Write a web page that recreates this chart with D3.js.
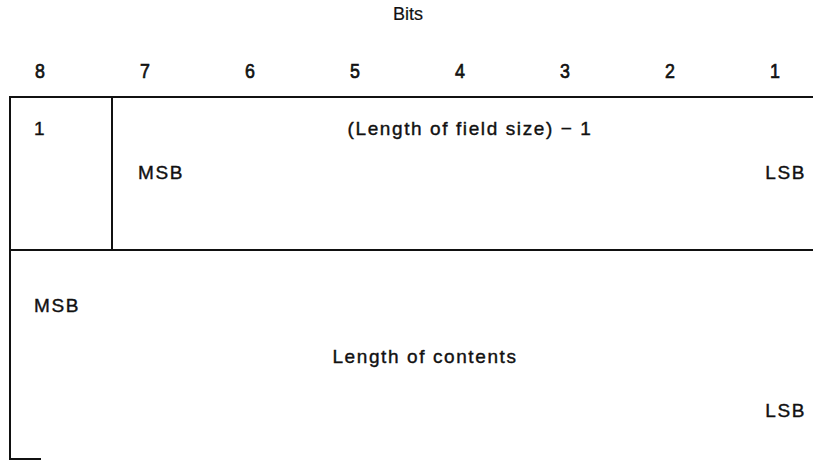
<!DOCTYPE html>
<html>
<head>
<meta charset="utf-8">
<script src="https://cdn.jsdelivr.net/npm/d3@7"></script>
<style>
  body { margin: 0; background: #fff; }
  text { font-family: "Liberation Sans", Arial, sans-serif; fill: #111; stroke: #111; stroke-width: 0.4px; }
</style>
</head>
<body>
<svg id="chart"></svg>
<script>
// bit numbers across the top, MSB first
const bits = [8, 7, 6, 5, 4, 3, 2, 1];
const title = "Bits";
const firstOctet = { flag: "1", label: "(Length of field size) \u2212 1", msb: "MSB", lsb: "LSB" };
const secondField = { label: "Length of contents", msb: "MSB", lsb: "LSB" };

const width = 815, height = 461;
const svg = d3.select("#chart").attr("width", width).attr("height", height);

// x position of each bit column
const x = d3.scalePoint().domain(bits).range([40, 775]);

// frame rows
const left = 10, right = 813;
const rowTop = 97, rowMid = 250, rowBot = 459;
const divider = 112;

svg.append("text")
  .attr("x", 408).attr("y", 20)
  .attr("text-anchor", "middle")
  .style("font-size", "18px")
  .style("stroke-width", "0.2px")
  .text(title);

svg.selectAll(".bit")
  .data(bits)
  .enter().append("text")
  .attr("class", "bit")
  .attr("x", d => x(d))
  .attr("y", 78)
  .attr("text-anchor", "middle")
  .attr("transform", d => `translate(${x(d)},0) scale(0.85,1) translate(${-x(d)},0)`)
  .style("font-size", "21px")
  .style("stroke-width", "0.7px")
  .text(d => d);

// frame lines
const g = svg.append("g").attr("stroke", "#111").attr("stroke-width", 2).attr("fill", "none");
g.append("path").attr("d", `M${right},${rowTop}H${left}V${rowBot}H${left + 31}`);
g.append("path").attr("d", `M${left},${rowMid}H${right}`);
g.append("path").attr("d", `M${divider},${rowTop}V${rowMid}`);

const fs = "19px", ls = "1.6px";
function label(x0, y0, anchor, txt) {
  svg.append("text")
    .attr("x", x0).attr("y", y0)
    .attr("text-anchor", anchor)
    .style("font-size", fs)
    .style("letter-spacing", ls)
    .text(txt);
}
label(x(8), 135, "middle", firstOctet.flag);
label(470, 135, "middle", firstOctet.label);
label(138, 179, "start", firstOctet.msb);
label(806, 179, "end", firstOctet.lsb);

label(34, 312, "start", secondField.msb);
label(425, 363, "middle", secondField.label);
label(806, 417, "end", secondField.lsb);
</script>
</body>
</html>
